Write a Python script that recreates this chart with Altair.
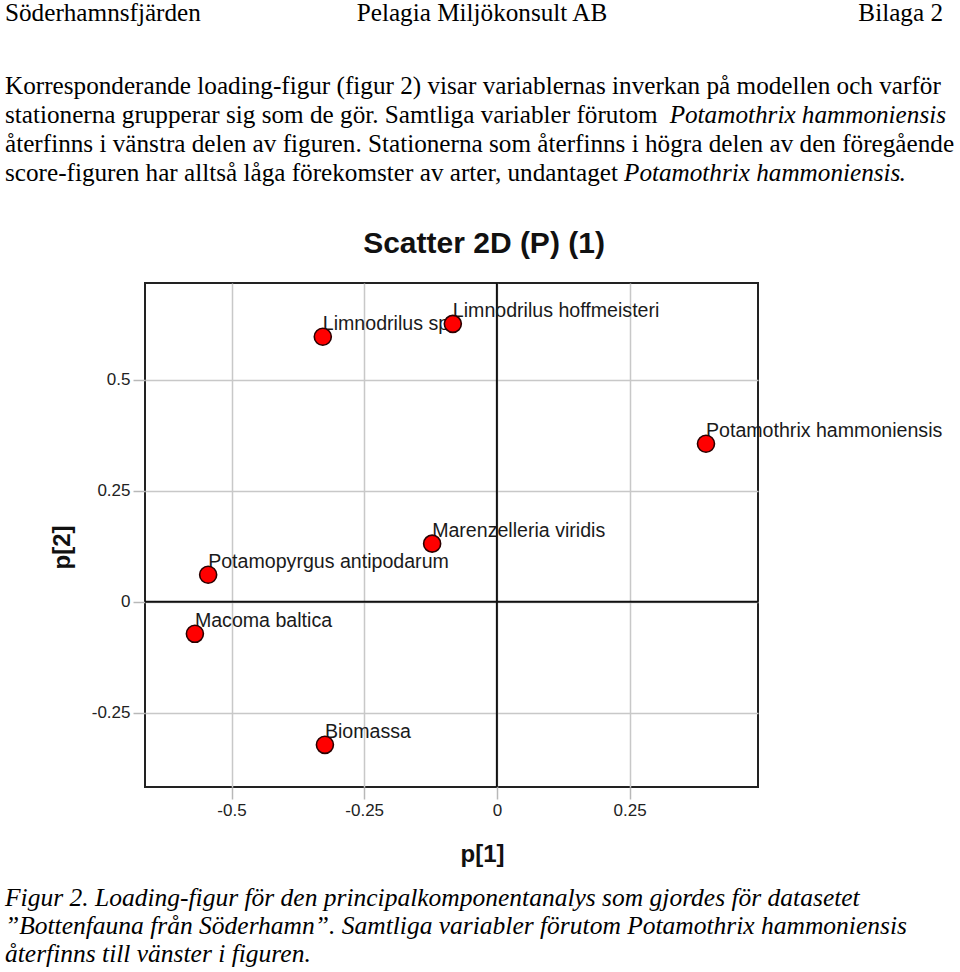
import altair as alt
import pandas as pd

# ---- chart data (loadings) ----
names = ["Limnodrilus sp", "Limnodrilus hoffmeisteri", "Potamothrix hammoniensis",
         "Marenzelleria viridis", "Potamopyrgus antipodarum", "Macoma baltica", "Biomassa"]
p1 = [-0.328, -0.083, 0.394, -0.122, -0.544, -0.569, -0.324]
p2 = [0.597, 0.626, 0.356, 0.131, 0.061, -0.072, -0.322]
x_ticks = [-0.5, -0.25, 0, 0.25]
y_ticks = [-0.25, 0, 0.25, 0.5]
x_domain = [-0.663, 0.492]
y_domain = [-0.417, 0.718]

# ---- page text ----
header_left = "Söderhamnsfjärden"
header_mid = "Pelagia Miljökonsult AB"
header_right = "Bilaga 2"
para1 = "Korresponderande loading-figur (figur 2) visar variablernas inverkan på modellen och varför"
para2a = "stationerna grupperar sig som de gör. Samtliga variabler förutom "
para2b = "Potamothrix hammoniensis"
para3 = "återfinns i vänstra delen av figuren. Stationerna som återfinns i högra delen av den föregående"
para4a = "score-figuren har alltså låga förekomster av arter, undantaget "
para4b = "Potamothrix hammoniensis"
para4c = "."
chart_title = "Scatter 2D (P) (1)"
caption = [
    "Figur 2. Loading-figur för den principalkomponentanalys som gjordes för datasetet",
    "”Bottenfauna från Söderhamn”. Samtliga variabler förutom Potamothrix hammoniensis",
    "återfinns till vänster i figuren.",
]

df = pd.DataFrame({"name": names, "p1": p1, "p2": p2})

W, H = 613, 504
PL, PT = 145, 283
SANS = "Liberation Sans"
SERIF = "Liberation Serif"

xs = alt.X("p1:Q", scale=alt.Scale(domain=x_domain, nice=False, zero=False),
           axis=alt.Axis(values=x_ticks, labelExpr="'' + datum.value", title="p[1]",
                         grid=True, gridColor="#c8c8c8", gridWidth=1.5,
                         ticks=True, tickColor="#b8b8b8", tickSize=12, tickWidth=1.5,
                         domain=False, labelFontSize=17, labelFont=SANS, labelColor="#222",
                         labelPadding=3,
                         titleFont=SANS, titleFontSize=24, titleFontWeight="bold",
                         titleColor="#111", titleX=337, titleY=74,
                         titleBaseline="alphabetic", titleAlign="center"))
ys = alt.Y("p2:Q", scale=alt.Scale(domain=y_domain, nice=False, zero=False),
           axis=alt.Axis(values=y_ticks, labelExpr="'' + datum.value", title="p[2]",
                         grid=True, gridColor="#c8c8c8", gridWidth=1.5,
                         ticks=True, tickColor="#b8b8b8", tickSize=12, tickWidth=1.5,
                         domain=False, labelFontSize=17, labelFont=SANS, labelColor="#222",
                         labelPadding=3,
                         titleFont=SANS, titleFontSize=24, titleFontWeight="bold",
                         titleColor="#111", titleX=-83, titleY=264, titleAngle=270,
                         titleBaseline="middle", titleAlign="center"))

base = alt.Chart(df)

zero_v = alt.Chart(pd.DataFrame({"v": [0]})).mark_rule(color="#111", strokeWidth=2).encode(
    x=alt.X("v:Q", scale=alt.Scale(domain=x_domain, nice=False, zero=False)))
zero_h = alt.Chart(pd.DataFrame({"v": [0]})).mark_rule(color="#111", strokeWidth=2).encode(
    y=alt.Y("v:Q", scale=alt.Scale(domain=y_domain, nice=False, zero=False)))

labels = base.mark_text(align="left", baseline="alphabetic", dx=0, dy=-7,
                        font=SANS, fontSize=19.6, color="#1a1a1a").encode(
    x=xs, y=ys, text="name:N")
points = base.mark_point(filled=True, shape="circle", size=290, fill="#ff0000",
                         stroke="#2a0000", strokeWidth=1.6, opacity=1).encode(x=xs, y=ys)


def txt(s, x, y, size=25.2, font=SERIF, align="left", style="normal", weight="normal",
        color="#000"):
    return alt.Chart(pd.DataFrame({"t": [s]})).mark_text(
        align=align, baseline="alphabetic", font=font, fontSize=size, fontStyle=style,
        fontWeight=weight, color=color).encode(
        x=alt.value(x - PL), y=alt.value(y - PT), text="t:N")


page = [
    txt(header_left, 5, 21),
    txt(header_mid, 482, 21, align="center"),
    txt(header_right, 943, 21, align="right"),
    txt(para1, 5, 94),
    txt(para2a, 5, 123),
    txt(para2b, 946, 123, align="right", style="italic"),
    txt(para3, 5, 152),
    txt(para4a, 5, 181),
    txt(para4b, 624, 181, style="italic"),
    txt(para4c, 899, 181),
    txt(chart_title, 484, 253, size=30, font=SANS, align="center", weight="bold", color="#111"),
    txt(caption[0], 5, 906, size=25.5, style="italic"),
    txt(caption[1], 5, 934, size=25.5, style="italic"),
    txt(caption[2], 5, 962, size=25.5, style="italic"),
]

chart = alt.layer(zero_v, zero_h, labels, points, *page).properties(
    width=W, height=H,
    autosize=alt.AutoSizeParams(type="none"),
    padding={"left": PL, "top": PT, "right": 960 - PL - W, "bottom": 972 - PT - H},
    background="white",
).configure_view(stroke="#222", strokeWidth=2)

chart.save("out.html", embed_options={"renderer": "svg", "actions": False})
